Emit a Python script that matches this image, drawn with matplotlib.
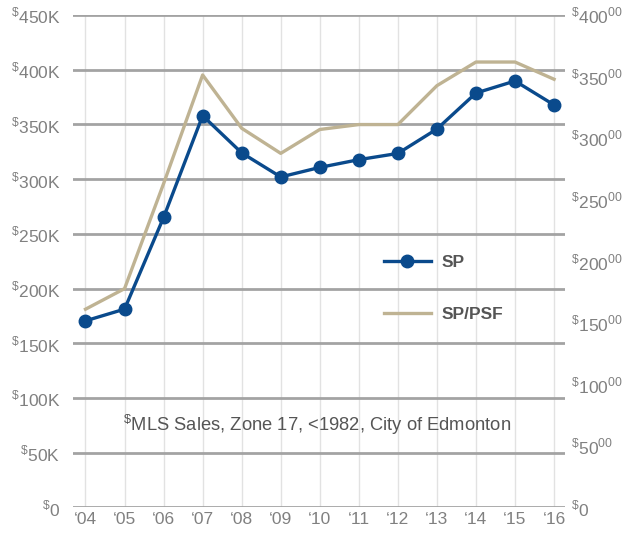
import matplotlib.pyplot as plt

plt.rcParams['font.family'] = ['Liberation Sans', 'DejaVu Sans']
plt.rcParams['mathtext.fontset'] = 'custom'
plt.rcParams['mathtext.rm'] = 'Liberation Sans'

# data
years = ['04', '05', '06', '07', '08', '09', '10', '11', '12', '13', '14', '15', '16']
sp = [170.5, 181.2, 265, 358, 324, 302, 310.7, 317.8, 323.5, 345.8, 378.7, 389.7, 367.8]  # $K
sp_psf = [161, 177.7, 263, 351.3, 308, 287.6, 307, 311, 311, 342.6, 361.8, 361.8, 347.8]  # $/sqft

left_ticks = [0, 50, 100, 150, 200, 250, 300, 350, 400, 450]
right_ticks = [0, 50, 100, 150, 200, 250, 300, 350, 400]

blue = '#0a4a8c'
tan = '#bfb393'
grid_c = '#a3a3a3'
txt_c = '#808080'

fig = plt.figure(figsize=(6.31, 5.35), dpi=100)
ax = fig.add_axes([73 / 631, 1 - 507.4 / 535, 492 / 631, 492.4 / 535])
ax2 = ax.twinx()

x = list(range(len(years)))

# vertical light grid
for xi in x:
    ax.axvline(xi, color='#e2e2e2', lw=1, zorder=0)

ax.set_xlim(-0.32, 12.28)
ax.set_ylim(0, 450)
ax2.set_ylim(0, 400)

ax.set_yticks(left_ticks)
ax.set_yticklabels([r'$^{\$}$0' if v == 0 else r'$^{\$}$%dK' % v for v in left_ticks])
ax2.set_yticks(right_ticks)
ax2.set_yticklabels([r'$^{\$}$0' if v == 0 else r'$^{\$}$%d$^{00}$' % v for v in right_ticks])
ax.set_xticks(x)
ax.set_xticklabels(['\u2018' + y for y in years])

ax.grid(axis='y', color=grid_c, lw=2, zorder=0.5)
ax.set_axisbelow(True)
for a in (ax, ax2):
    for s in a.spines.values():
        s.set_visible(False)
ax.tick_params(axis='both', length=0, colors=txt_c, labelsize=12.5)
ax.tick_params(axis='y', pad=9)
ax.tick_params(axis='x', pad=3)
ax2.tick_params(axis='y', length=0, colors=txt_c, labelsize=12.5, pad=4)

l2, = ax2.plot(x, sp_psf, color=tan, lw=2.4, zorder=3, label='SP/PSF')
l1, = ax2.plot(x, [v * 400 / 450 for v in sp], color=blue, lw=2.4, marker='o',
               markersize=9, zorder=4, label='SP')

leg = ax2.legend(handles=[l1, l2], loc='center left', bbox_to_anchor=(0.6, 0.445),
                 frameon=False, handlelength=2.7, handletextpad=0.6, labelspacing=2.15,
                 prop={'weight': 'bold', 'size': 12.5})
for t in leg.get_texts():
    t.set_color('#555555')

ax.text(0.497, 0.167, r'$^{\$}$MLS Sales, Zone 17, <1982, City of Edmonton',
        transform=ax.transAxes, ha='center', va='center', color='#555555', fontsize=13.2)

fig.savefig('out.png', dpi=100)
